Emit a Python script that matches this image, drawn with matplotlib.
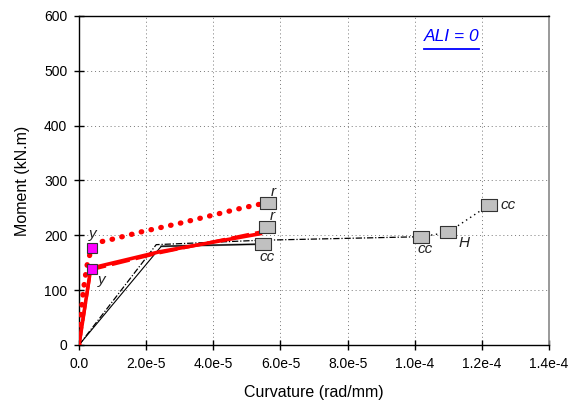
import matplotlib.pyplot as plt
from matplotlib.ticker import FixedLocator

plt.rcParams['font.family'] = ['Liberation Sans', 'DejaVu Sans']

# curvature in 1e-5 rad/mm, moment in kN.m
upper_x = [0, 0.05, 0.13, 0.23, 0.33, 0.40, 0.63, 1.0, 1.9, 2.2, 3.0, 4.0, 4.8, 5.48]
upper_m = [0, 52, 100, 143, 167, 177, 188, 193, 207, 211, 222, 237, 249, 258]

solid_x = [0, 0.35, 2.4, 5.4]
solid_m = [0, 140, 170, 203]

dash_x = [0, 0.35, 2.4, 5.55]
dash_m = [0, 137, 168, 208]

yield_x = [0.39, 0.39]
yield_m = [177, 139]

rupture_x = [5.63, 5.59]
rupture_m = [259, 215]

black_x = [0, 2.45, 5.47]
black_m = [0, 180, 184]

dashdot_x = [0, 2.3, 5.4, 10.2]
dashdot_m = [0, 183, 191, 197.5]

tail_x = [10.2, 11.0, 11.25, 12.22]
tail_m = [197.5, 205.5, 216, 255.5]

cc_x = [5.47, 10.2, 12.22]
cc_m = [184, 197.5, 255.5]

h_x = [11.0]
h_m = [205.5]

xticks = [0, 2, 4, 6, 8, 10, 12, 14]
xtick_labels = ['0.0', '2.0e-5', '4.0e-5', '6.0e-5', '8.0e-5', '1.0e-4', '1.2e-4', '1.4e-4']
yticks = [0, 100, 200, 300, 400, 500, 600]

fig = plt.figure(figsize=(5.73, 4.11), dpi=100)
ax = fig.add_axes([0.1379, 0.1606, 0.8203, 0.8005])

rect = [(-1.4, -1), (1.4, -1), (1.4, 1), (-1.4, 1), (-1.4, -1)]

ax.plot(black_x, black_m, color='black', lw=0.8, zorder=3)
ax.plot(black_x[1:], black_m[1:], color='#888888', lw=1.5, zorder=2)
ax.plot(dashdot_x, dashdot_m, color='black', lw=0.9, ls=(0, (5, 1.5, 1, 1.5)), zorder=3)
ax.plot(tail_x, tail_m, color='black', lw=1.0, ls=(0, (1, 2.5)), zorder=3)

ax.plot(solid_x, solid_m, color='red', lw=2.6, zorder=4)
ax.plot(dash_x, dash_m, color='red', lw=2.2, ls=(0, (6, 2)), zorder=4)
ax.plot(upper_x, upper_m, color='red', lw=3.8, ls=(0, (0.1, 1.8)),
        dash_capstyle='round', zorder=4)

ax.plot(yield_x, yield_m, ls='none', marker='s', ms=7, mfc='#ff00ff',
        mec='#333333', mew=0.8, zorder=6)
ax.plot(rupture_x, rupture_m, ls='none', marker=rect, ms=11.5, mfc='#c0c0c0',
        mec='#333333', mew=0.8, zorder=6)
ax.plot(cc_x, cc_m, ls='none', marker=rect, ms=11.5, mfc='#c0c0c0',
        mec='#333333', mew=0.8, zorder=6)
ax.plot(h_x, h_m, ls='none', marker=rect, ms=11.5, mfc='#c0c0c0',
        mec='#333333', mew=0.8, zorder=6)

lab = dict(fontsize=11, style='italic', color='#222222', zorder=7)
ax.annotate('y', (yield_x[0], yield_m[0]), xytext=(-2, 5), textcoords='offset points',
            ha='left', va='bottom', **lab)
ax.annotate('y', (yield_x[1], yield_m[1]), xytext=(4, -3), textcoords='offset points',
            ha='left', va='top', **lab)
for x, m in zip(rupture_x, rupture_m):
    ax.annotate('r', (x, m), xytext=(2, 3), textcoords='offset points',
                ha='left', va='bottom', **lab)
ax.annotate('cc', (cc_x[0], cc_m[0]), xytext=(-2, -4), textcoords='offset points',
            ha='left', va='top', **lab)
ax.annotate('cc', (cc_x[1], cc_m[1]), xytext=(-3, -4), textcoords='offset points',
            ha='left', va='top', **lab)
ax.annotate('cc', (cc_x[2], cc_m[2]), xytext=(8, 0), textcoords='offset points',
            ha='left', va='center', **lab)
ax.annotate('H', (h_x[0], h_m[0]), xytext=(7, -3), textcoords='offset points',
            ha='left', va='top', **lab)

ax.text(0.792, 0.937, 'ALI = 0', transform=ax.transAxes, fontsize=12.5,
        style='italic', color='#0000ff', ha='center', va='center')
ax.plot([0.733, 0.851], [0.9, 0.9], transform=ax.transAxes, color='#0000ff',
        lw=1.3, clip_on=False)

ax.set_xlim(0, 14)
ax.set_ylim(0, 600)
ax.xaxis.set_major_locator(FixedLocator(xticks))
ax.set_xticklabels(xtick_labels)
ax.set_yticks(yticks)
ax.tick_params(direction='inout', length=7, width=1, labelsize=10, pad=5)
ax.grid(True, color='#777777', ls=(0, (1, 3)), lw=0.7)

for side in ['left', 'bottom', 'top']:
    ax.spines[side].set_color('black')
    ax.spines[side].set_linewidth(1.0)
ax.spines['right'].set_color('#888888')
ax.spines['right'].set_linewidth(1.2)

ax.set_xlabel('Curvature (rad/mm)', fontsize=11.5, labelpad=10)
ax.set_ylabel('Moment (kN.m)', fontsize=11.5, labelpad=10)

fig.savefig('out.png', dpi=100)
